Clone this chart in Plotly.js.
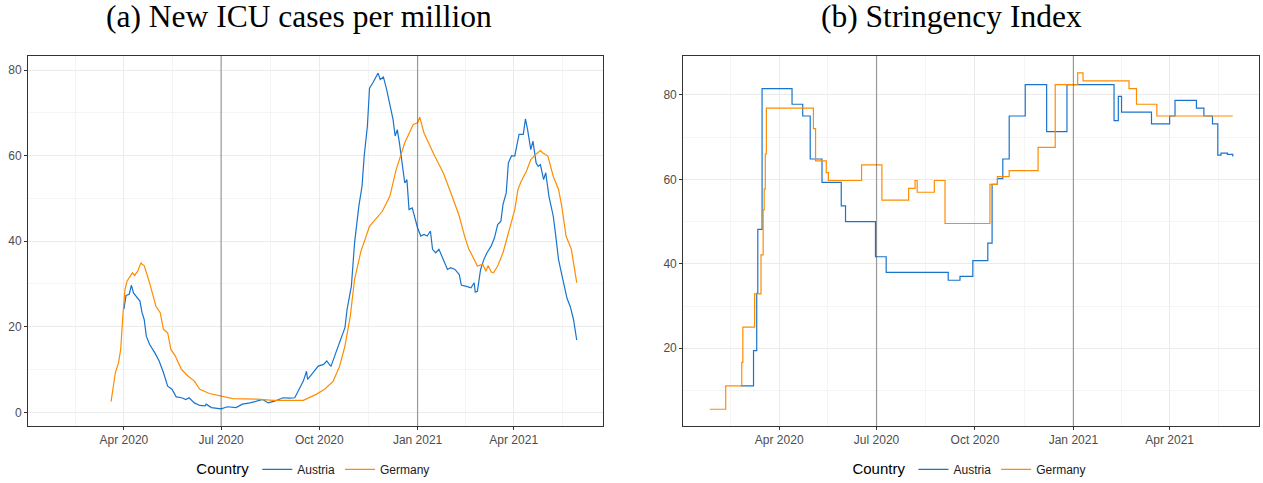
<!DOCTYPE html>
<html>
<head>
<meta charset="utf-8">
<script src="https://cdn.plot.ly/plotly-3.0.1.min.js"></script>
<style>
  html, body { margin: 0; padding: 0; background: #ffffff; }
  #chart { width: 1263px; height: 483px; }
</style>
</head>
<body>
<div id="chart"></div>
<script>
// ---- (a) New ICU cases per million (7-day smoothed) ----
const icuAustriaDates = [
  '2020-04-01','2020-04-03','2020-04-06','2020-04-08','2020-04-10','2020-04-13','2020-04-16','2020-04-18',
  '2020-04-20','2020-04-22','2020-04-25','2020-04-30','2020-05-04','2020-05-08','2020-05-12','2020-05-16',
  '2020-05-20','2020-05-25','2020-05-29','2020-06-01','2020-06-06','2020-06-11','2020-06-16','2020-06-17',
  '2020-06-22','2020-07-01','2020-07-07','2020-07-15','2020-07-21','2020-07-28','2020-08-03','2020-08-09',
  '2020-08-14','2020-08-20','2020-08-28','2020-09-03','2020-09-08','2020-09-13','2020-09-16','2020-09-19',
  '2020-09-20','2020-09-24','2020-09-30','2020-10-05','2020-10-08','2020-10-11','2020-10-12','2020-10-17',
  '2020-10-20','2020-10-25','2020-10-27','2020-10-31','2020-11-03','2020-11-07','2020-11-10','2020-11-12',
  '2020-11-15','2020-11-17','2020-11-20','2020-11-22','2020-11-25','2020-11-27','2020-11-30','2020-12-03',
  '2020-12-06','2020-12-09','2020-12-11','2020-12-13','2020-12-15','2020-12-17','2020-12-20','2020-12-22',
  '2020-12-24','2020-12-27','2020-12-29','2021-01-01','2021-01-04','2021-01-07','2021-01-10','2021-01-13',
  '2021-01-15','2021-01-18','2021-01-21','2021-01-25','2021-01-29','2021-02-01','2021-02-05','2021-02-09',
  '2021-02-11','2021-02-15','2021-02-20','2021-02-23','2021-02-24','2021-02-26','2021-03-01','2021-03-04',
  '2021-03-07','2021-03-11','2021-03-14','2021-03-17','2021-03-20','2021-03-22','2021-03-25','2021-03-27',
  '2021-03-30','2021-04-02','2021-04-05','2021-04-06','2021-04-10','2021-04-12','2021-04-14','2021-04-17',
  '2021-04-19','2021-04-22','2021-04-24','2021-04-26','2021-04-29','2021-05-01','2021-05-04','2021-05-08',
  '2021-05-10','2021-05-13','2021-05-16','2021-05-21','2021-05-24','2021-05-27','2021-05-30'
];
const icuAustria = [
  24.1, 27.3, 27.6, 29.7, 27.9, 26.8, 26.0, 23.3,
  21.7, 17.8, 15.9, 13.9, 12.0, 9.3, 6.1, 5.4,
  3.6, 3.4, 3.0, 3.4, 2.2, 1.6, 1.5, 1.9,
  1.1, 0.8, 1.3, 1.1, 1.9, 2.2, 2.6, 3.0,
  2.2, 2.6, 3.4, 3.3, 3.4, 5.7, 7.3, 9.6,
  7.7, 8.9, 10.8, 11.2, 12.0, 11.0, 10.8, 14.3,
  16.4, 19.8, 24.1, 29.5, 39.6, 48.2, 52.9, 59.9,
  66.9, 75.8, 77.0, 77.8, 79.3, 77.8, 78.4, 75.5,
  71.6, 68.5, 64.6, 66.1, 63.0, 59.1, 53.6, 54.4,
  47.4, 47.8, 45.9, 43.1, 41.2, 41.6, 41.2, 42.4,
  38.1, 37.3, 38.1, 35.7, 33.4, 33.8, 33.4, 32.2,
  29.7, 29.5, 29.1, 30.3, 28.1, 28.3, 33.4, 35.7,
  37.3, 38.9, 40.8, 43.9, 44.7, 48.6, 51.3, 58.3,
  60.0, 59.9, 63.4, 65.0, 65.0, 68.6, 66.1, 61.4,
  63.4, 58.3, 57.5, 57.9, 54.4, 56.0, 50.5, 45.9,
  42.0, 35.7, 32.2, 26.6, 24.7, 21.7, 16.9
];

const icuGermanyDates = [
  '2020-03-20','2020-03-22','2020-03-24','2020-03-27','2020-03-29','2020-03-31','2020-04-02','2020-04-04',
  '2020-04-07','2020-04-09','2020-04-11','2020-04-14','2020-04-17','2020-04-18','2020-04-20','2020-04-25',
  '2020-05-01','2020-05-05','2020-05-08','2020-05-12','2020-05-15','2020-05-19','2020-05-25','2020-05-31',
  '2020-06-06','2020-06-11','2020-06-20','2020-07-01','2020-07-12','2020-08-03','2020-08-19','2020-09-16',
  '2020-09-28','2020-10-06','2020-10-14','2020-10-20','2020-10-25','2020-10-30','2020-11-03','2020-11-09',
  '2020-11-17','2020-11-29','2020-12-06','2020-12-12','2020-12-20','2020-12-28','2021-01-01','2021-01-03',
  '2021-01-07','2021-01-17','2021-01-25','2021-01-31','2021-02-06','2021-02-09','2021-02-14','2021-02-18',
  '2021-02-21','2021-02-26','2021-03-03','2021-03-06','2021-03-08','2021-03-11','2021-03-13','2021-03-17',
  '2021-03-22','2021-03-28','2021-04-02','2021-04-05','2021-04-08','2021-04-13','2021-04-17','2021-04-22',
  '2021-04-26','2021-04-28','2021-05-03','2021-05-08','2021-05-13','2021-05-16','2021-05-20','2021-05-25',
  '2021-05-28','2021-05-30'
];
const icuGermany = [
  2.5, 5.4, 9.3, 11.6, 14.7, 22.5, 28.7, 30.7,
  32.0, 32.6, 32.0, 33.0, 35.0, 34.6, 34.3, 30.3,
  24.8, 23.3, 19.4, 18.6, 14.7, 13.2, 10.0, 8.5,
  7.3, 5.4, 4.4, 3.8, 3.2, 3.1, 2.8, 2.8,
  4.2, 5.4, 7.3, 10.8, 15.5, 22.5, 31.1, 37.7,
  43.5, 47.0, 50.5, 56.8, 63.0, 67.3, 67.7, 69.0,
  65.3, 59.9, 56.0, 52.1, 48.2, 45.9, 41.2, 38.1,
  36.7, 34.2, 34.6, 33.0, 34.3, 32.8, 32.6, 34.2,
  37.3, 42.8, 47.4, 52.1, 54.0, 56.4, 59.1, 60.4,
  61.2, 60.7, 59.9, 55.2, 52.1, 48.2, 41.2, 38.1,
  33.4, 30.3
];

// ---- (b) Stringency Index (value holds from each date until the next) ----
const siAustriaDates = [
  '2020-02-25','2020-03-08','2020-03-11','2020-03-12','2020-03-16','2020-04-13','2020-04-23','2020-04-30',
  '2020-05-11','2020-05-29','2020-06-02','2020-06-30','2020-07-10','2020-09-06','2020-09-17','2020-09-29',
  '2020-10-13','2020-10-17','2020-10-22','2020-10-27','2020-11-02','2020-11-17','2020-12-07','2020-12-26',
  '2021-02-08','2021-02-12','2021-02-15','2021-03-15','2021-04-01','2021-04-06','2021-04-26','2021-05-03',
  '2021-05-11','2021-05-16','2021-05-19','2021-05-25','2021-05-30'
];
const siAustria = [
  11.11, 19.44, 33.0, 48.15, 81.48, 77.78, 75.0, 64.81,
  59.26, 53.7, 50.0, 41.67, 37.96, 36.11, 37.04, 40.74,
  44.91, 58.8, 60.19, 64.81, 75.0, 82.41, 71.3, 82.41,
  73.89, 79.63, 75.93, 73.15, 75.0, 78.7, 76.85, 75.0,
  73.15, 65.74, 66.2, 65.9, 65.4
];

const siGermanyDates = [
  '2020-01-27','2020-02-11','2020-02-26','2020-02-27','2020-03-09','2020-03-15','2020-03-17','2020-03-18',
  '2020-03-19','2020-03-20','2020-05-03','2020-05-05','2020-05-15','2020-05-17','2020-06-17','2020-07-06',
  '2020-07-31','2020-08-06','2020-08-08','2020-08-24','2020-09-03','2020-10-15','2020-10-22','2020-11-02',
  '2020-11-29','2020-12-15','2021-01-05','2021-01-10','2021-02-22','2021-03-01','2021-03-20','2021-05-30'
];
const siGermany = [
  5.56, 11.11, 16.67, 25.0, 32.87, 42.13, 52.78, 57.7,
  66.0, 76.85, 72.0, 64.35, 61.57, 59.72, 63.43, 55.09,
  57.87, 59.72, 56.94, 59.72, 49.54, 58.8, 60.65, 62.04,
  67.59, 82.41, 85.19, 83.33, 81.48, 77.78, 75.0, 75.0
];

// ---- axis breaks ----
const quarterBreaks = ['2020-01-01','2020-04-01','2020-07-01','2020-10-01','2021-01-01','2021-04-01','2021-07-01'];
const xTickVals = ['2020-04-01','2020-07-01','2020-10-01','2021-01-01','2021-04-01'];
const xTickText = ['Apr 2020','Jul 2020','Oct 2020','Jan 2021','Apr 2021'];
const markerDates = ['2020-07-01','2021-01-01'];
const xRange = ['2020-01-02 05:00','2021-06-23 12:00'];

const countryColors = { Austria: '#1874CD', Germany: '#FF8C00' };

// minor date gridlines sit halfway between consecutive quarter breaks
function midpoints(dates) {
  const out = [];
  for (let i = 0; i < dates.length - 1; i++) {
    const a = new Date(dates[i] + 'T00:00:00Z').getTime();
    const b = new Date(dates[i + 1] + 'T00:00:00Z').getTime();
    out.push(new Date((a + b) / 2).toISOString().slice(0, 16).replace('T', ' '));
  }
  return out;
}
const xMinor = midpoints(quarterBreaks);

const tickFont = { family: 'Liberation Sans, Arial, sans-serif', size: 12, color: '#4d4d4d' };

function xAxis(domain, anchor) {
  return {
    domain: domain, anchor: anchor, type: 'date', range: xRange,
    tickmode: 'array', tickvals: xTickVals, ticktext: xTickText,
    ticks: 'outside', ticklen: 3, tickwidth: 1, tickcolor: '#333333',
    tickfont: tickFont,
    showgrid: true, gridcolor: '#ebebeb', gridwidth: 1,
    minor: { tickmode: 'array', tickvals: xMinor, showgrid: true, gridcolor: '#f2f2f2', gridwidth: 0.8, ticks: '' },
    showline: true, mirror: true, linecolor: '#333333', linewidth: 1,
    zeroline: false, fixedrange: true, automargin: false
  };
}
function yAxis(range, ticks, anchor) {
  return {
    domain: [0, 1], anchor: anchor, range: range,
    tickmode: 'array', tickvals: ticks,
    ticks: 'outside', ticklen: 3, tickwidth: 1, tickcolor: '#333333',
    tickfont: tickFont,
    showgrid: true, gridcolor: '#ebebeb', gridwidth: 1,
    minor: { tickmode: 'array', tickvals: [10, 30, 50, 70], showgrid: true, gridcolor: '#f2f2f2', gridwidth: 0.8, ticks: '' },
    showline: true, mirror: true, linecolor: '#333333', linewidth: 1,
    zeroline: false, fixedrange: true, automargin: false
  };
}

function series(x, y, name, xa, ya, legend, shape) {
  return {
    type: 'scatter', mode: 'lines', x: x, y: y, name: name,
    xaxis: xa, yaxis: ya, legend: legend,
    line: { color: countryColors[name], width: 1.2, shape: shape },
    hoverinfo: 'x+y+name'
  };
}

const traces = [
  series(icuAustriaDates, icuAustria, 'Austria', 'x', 'y', 'legend', 'linear'),
  series(icuGermanyDates, icuGermany, 'Germany', 'x', 'y', 'legend', 'linear'),
  series(siAustriaDates, siAustria, 'Austria', 'x2', 'y2', 'legend2', 'hv'),
  series(siGermanyDates, siGermany, 'Germany', 'x2', 'y2', 'legend2', 'hv')
];

const vlines = [];
[['x', 'y'], ['x2', 'y2']].forEach(([xa, ya]) => {
  markerDates.forEach(d => vlines.push({
    type: 'line', xref: xa, yref: ya + ' domain', x0: d, x1: d, y0: 0, y1: 1,
    line: { color: 'rgba(70,70,70,0.5)', width: 1.2 }, layer: 'above'
  }));
});

// legends sit in the bottom strip of the page, one under each panel
const legendBase = {
  orientation: 'h', xanchor: 'center', yanchor: 'middle',
  xref: 'paper', yref: 'container', y: 0.027,
  bgcolor: 'rgba(0,0,0,0)',
  font: { family: 'Liberation Sans, Arial, sans-serif', size: 12, color: '#1a1a1a' },
  title: { text: 'Country', side: 'left', font: { family: 'Liberation Sans, Arial, sans-serif', size: 15, color: '#000000' } },
  itemwidth: 30, tracegroupgap: 0
};

const titleFont = { family: 'Liberation Serif, Times New Roman, serif', size: 31.5, color: '#000000' };

const layout = {
  width: 1263, height: 483,
  margin: { l: 28, r: 4, t: 56, b: 57, pad: 0, autoexpand: false },
  paper_bgcolor: '#ffffff', plot_bgcolor: '#ffffff',
  showlegend: true,
  xaxis: xAxis([0, 0.467], 'y'),
  yaxis: yAxis([-3.2, 83.3], [0, 20, 40, 60, 80], 'x'),
  xaxis2: xAxis([0.5322, 1], 'y2'),
  yaxis2: yAxis([1.6, 89.2], [20, 40, 60, 80], 'x2'),
  legend: Object.assign({}, legendBase, { x: 0.233 }),
  legend2: Object.assign({}, legendBase, { x: 0.766 }),
  shapes: vlines,
  annotations: [
    { text: '(a) New ICU cases per million', xref: 'paper', yref: 'paper', x: 0.2201, y: 1.108,
      xanchor: 'center', yanchor: 'middle', showarrow: false, font: titleFont },
    { text: '(b) Stringency Index', xref: 'paper', yref: 'paper', x: 0.750, y: 1.108,
      xanchor: 'center', yanchor: 'middle', showarrow: false, font: titleFont }
  ]
};

Plotly.newPlot('chart', traces, layout, { displayModeBar: false, staticPlot: true });
</script>
</body>
</html>
